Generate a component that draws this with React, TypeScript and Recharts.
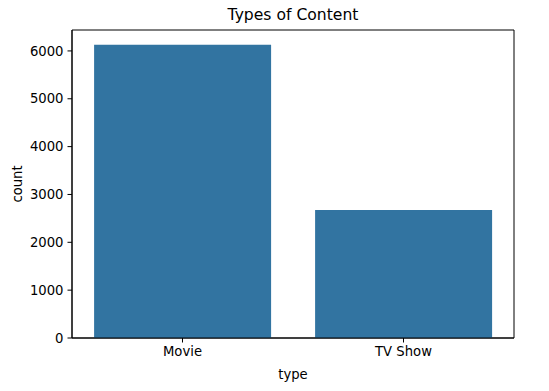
import { BarChart, Bar, XAxis, YAxis, ReferenceArea, Label } from 'recharts';

const categories = ['Movie', 'TV Show'];
const counts = [6131, 2676];
const yTicks = [0, 1000, 2000, 3000, 4000, 5000, 6000];

const data = categories.map((type, i) => ({ type, count: counts[i] }));
const yMax = Math.max(...counts) * 1.05;

const font = 'DejaVu Sans, sans-serif';
const tickStyle = { fill: '#000', fontSize: 13.2, fontFamily: font };

export default function App() {
  return (
    <div style={{ position: 'absolute', left: 0, top: 0, width: 549, height: 391, background: '#fff' }}>
      <div
        style={{
          position: 'absolute',
          left: 72,
          width: 442,
          top: 6,
          textAlign: 'center',
          fontFamily: font,
          fontSize: 15.6,
          color: '#000',
        }}
      >
        Types of Content
      </div>
      <BarChart
        width={549}
        height={391}
        data={data}
        margin={{ top: 30, right: 35, bottom: 0, left: 0 }}
        barCategoryGap="10%"
      >
        <XAxis
          dataKey="type"
          height={53}
          tick={tickStyle}
          tickSize={4.5}
          tickMargin={4}
          stroke="#000"
          axisLine={{ stroke: '#000' }}
          tickLine={{ stroke: '#000' }}
        >
          <Label value="type" position="insideBottom" offset={12} style={{ fill: '#000', fontSize: 13.2, fontFamily: font }} />
        </XAxis>
        <YAxis
          width={72}
          domain={[0, yMax]}
          ticks={yTicks}
          tick={tickStyle}
          tickSize={4.5}
          tickMargin={4}
          stroke="#000"
          axisLine={{ stroke: '#000' }}
          tickLine={{ stroke: '#000' }}
        >
          <Label
            value="count"
            angle={-90}
            position="insideLeft"
            offset={17}
            style={{ fill: '#000', fontSize: 13.2, fontFamily: font, textAnchor: 'middle' }}
          />
        </YAxis>
        <Bar dataKey="count" fill="#3274a1" isAnimationActive={false} />
        <ReferenceArea y1={0} y2={yMax} fill="none" stroke="#000" strokeWidth={1} ifOverflow="visible" />
      </BarChart>
    </div>
  );
}
